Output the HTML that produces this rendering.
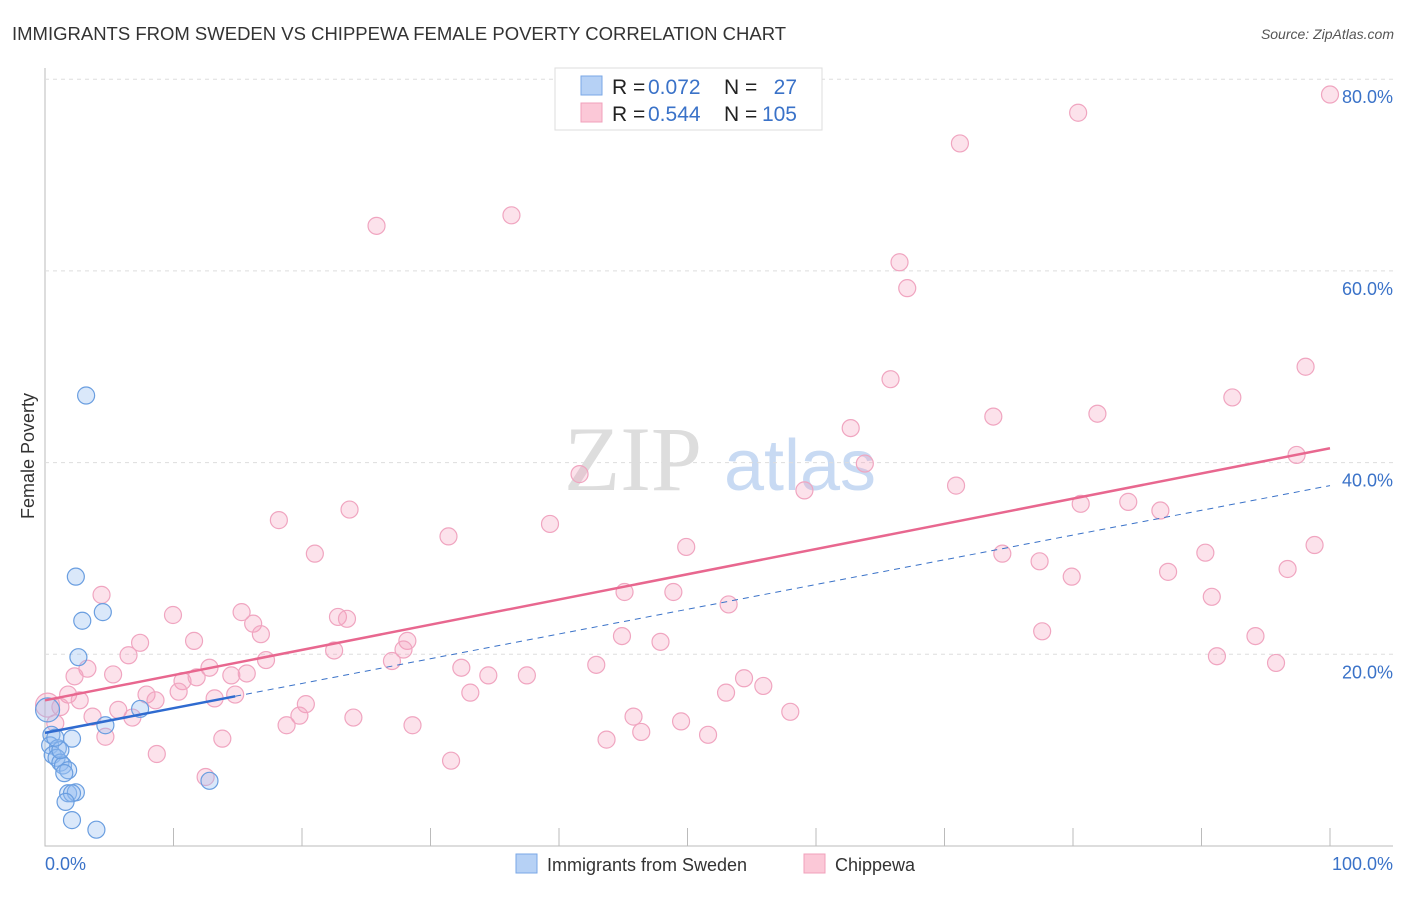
<!DOCTYPE html>
<html><head><meta charset="utf-8"><style>
body{margin:0;background:#fff;font-family:"Liberation Sans",sans-serif}
</style></head><body>
<svg id="c" width="1406" height="892" xmlns="http://www.w3.org/2000/svg">
<text x="12" y="40" font-size="18.5" fill="#333">IMMIGRANTS FROM SWEDEN VS CHIPPEWA FEMALE POVERTY CORRELATION CHART</text>
<text x="1394" y="39" font-size="14" fill="#555" text-anchor="end" font-style="italic">Source: ZipAtlas.com</text>
<text x="633" y="490" font-size="92" fill="#ddd" text-anchor="middle" font-family="Liberation Serif,serif">ZIP</text>
<text x="800" y="490" font-size="72" fill="#c8daf3" text-anchor="middle">atlas</text>
<g id="grid"></g><g id="marks"></g>
<text transform="translate(34,456) rotate(-90)" font-size="18" fill="#333" text-anchor="middle">Female Poverty</text>
<text x="45" y="870" font-size="18" fill="#3a72c8">0.0%</text>
<text x="1393" y="870" font-size="18" fill="#3a72c8" text-anchor="end">100.0%</text>
<g font-size="21">
<rect x="555" y="68" width="267" height="62" fill="#fff" stroke="#ddd"/>
<rect x="581" y="76" width="21" height="19" fill="#b6d1f5" stroke="#7aa7e6"/>
<rect x="581" y="103" width="21" height="19" fill="#fbc8d7" stroke="#f0a0bb"/>
<text x="612" y="94" fill="#222">R =</text><text x="648" y="94" fill="#3a72c8">0.072</text>
<text x="724" y="94" fill="#222">N =</text><text x="797" y="94" fill="#3a72c8" text-anchor="end">27</text>
<text x="612" y="121" fill="#222">R =</text><text x="648" y="121" fill="#3a72c8">0.544</text>
<text x="724" y="121" fill="#222">N =</text><text x="797" y="121" fill="#3a72c8" text-anchor="end">105</text>
</g>
<g>
<rect x="516" y="854" width="21" height="19" fill="#b6d1f5" stroke="#7aa7e6"/>
<text x="547" y="871" font-size="18" fill="#333">Immigrants from Sweden</text>
<rect x="804" y="854" width="21" height="19" fill="#fbc8d7" stroke="#f0a0bb"/>
<text x="835" y="871" font-size="18" fill="#333">Chippewa</text>
</g>
</svg>
<script>
const yTicks=[20,40,60,80];
const xTicks=[10,20,30,40,50,60,70,80,90,100];
const pinkX=[100,80.4,71.2,25.8,36.3,66.5,67.1,65.8,98.1,62.7,73.8,81.9,92.4,63.8,97.4,41.6,70.9,59.1,80.6,84.3,86.8,18.2,23.7,39.3,31.4,49.9,98.8,74.5,90.3,77.4,21,79.9,87.4,96.7,45.1,48.9,90.8,4.4,53.2,15.3,9.96,16.2,22.8,23.5,16.8,44.9,77.6,94.2,11.6,7.4,28.2,47.9,27.9,22.5,6.5,17.2,27,91.2,95.8,3.3,42.9,32.4,12.8,5.3,2.3,14.5,15.7,34.5,37.5,10.7,11.8,54.4,55.9,1.8,7.9,10.4,14.8,33.1,53,2.7,8.6,13.2,20.3,1.2,5.7,58,3.7,6.8,19.8,24,45.8,49.5,0.8,18.8,28.6,46.4,4.7,13.8,43.7,51.6,8.7,31.6,12.5,0.2];
const pinkY=[78.4,76.5,73.3,64.7,65.8,60.9,58.2,48.7,50,43.6,44.8,45.1,46.8,39.9,40.8,38.8,37.6,37.1,35.7,35.9,35,34,35.1,33.6,32.3,31.2,31.4,30.5,30.6,29.7,30.5,28.1,28.6,28.9,26.5,26.5,26,26.2,25.2,24.4,24.1,23.2,23.9,23.7,22.1,21.9,22.4,21.9,21.4,21.2,21.4,21.3,20.5,20.4,19.9,19.4,19.3,19.8,19.1,18.5,18.9,18.6,18.6,17.9,17.7,17.8,18,17.8,17.8,17.2,17.6,17.5,16.7,15.8,15.8,16.1,15.8,16,16,15.2,15.2,15.4,14.8,14.5,14.2,14,13.5,13.4,13.6,13.4,13.5,13,12.8,12.6,12.6,11.9,11.4,11.2,11.1,11.6,9.6,8.9,7.2,14.7];
const blueX=[3.2,2.4,4.5,2.9,2.6,7.4,4.7,0.2,0.5,2.1,0.4,1,0.6,0.9,1.2,1.4,1.8,1.5,1.8,2.4,2.1,1.6,2.1,4,12.8,1.2,0.8];
const blueY=[47,28.1,24.4,23.5,19.7,14.3,12.6,14.2,11.6,11.2,10.5,10.2,9.5,9.2,8.7,8.4,7.9,7.6,5.5,5.6,5.5,4.6,2.7,1.7,6.8,10,11.3];
const pinkTrend=[15.2,41.5];
const blueTrend=[11.8,37.6];
const blueSolidEnd=14.8;
const X=v=>45+v*12.85, Y=v=>846-v*9.585;
const NS="http://www.w3.org/2000/svg";
const g=document.getElementById('grid'), m=document.getElementById('marks');
function mk(p,tag,a){const e=document.createElementNS(NS,tag);for(const k in a)e.setAttribute(k,a[k]);p.appendChild(e);return e;}
const ax=mk(g,'path',{d:`M45,68V846H1393`,stroke:'#bbb',fill:'none'});


yTicks.forEach(t=>{
 const l=mk(g,'line',{x1:45,x2:1393,y1:Y(t),y2:Y(t),stroke:'#ddd','stroke-dasharray':'4,4'});
 
 
 const tx=mk(g,'text',{x:1393,y:Y(t)+24,'font-size':18,fill:'#3a72c8','text-anchor':'end'});tx.textContent=t.toFixed(1)+'%';
 
 
});
xTicks.forEach(t=>{
 const l=mk(g,'line',{x1:X(t),x2:X(t),y1:828,y2:846,stroke:'#bbb'});
 
 
});
pinkX.forEach((x,i)=>{
 const c=mk(m,'circle',{cx:X(x),cy:Y(pinkY[i]),r:i==pinkX.length-1?12:8.5,fill:'rgba(244,160,190,0.3)',stroke:'#f0a5c0','stroke-width':1.2});
 
 
});
blueX.forEach((x,i)=>{
 const c=mk(m,'circle',{cx:X(x),cy:Y(blueY[i]),r:i==7?12:8.5,fill:'rgba(150,190,240,0.35)',stroke:'#6a9ee0','stroke-width':1.2});
 
 
});
const bAt=x=>blueTrend[0]+(blueTrend[1]-blueTrend[0])*x/100;
const bd=mk(m,'line',{x1:X(blueSolidEnd),y1:Y(bAt(blueSolidEnd)),x2:X(100),y2:Y(blueTrend[1]),stroke:'#3a72c8','stroke-dasharray':'6,5','stroke-width':1});


const bs=mk(m,'line',{x1:X(0),y1:Y(blueTrend[0]),x2:X(blueSolidEnd),y2:Y(bAt(blueSolidEnd)),stroke:'#2f6bd0','stroke-width':2.5});


const pl=mk(m,'line',{x1:X(0),y1:Y(pinkTrend[0]),x2:X(100),y2:Y(pinkTrend[1]),stroke:'#e8678f','stroke-width':2.5});


</script>
</body></html>
